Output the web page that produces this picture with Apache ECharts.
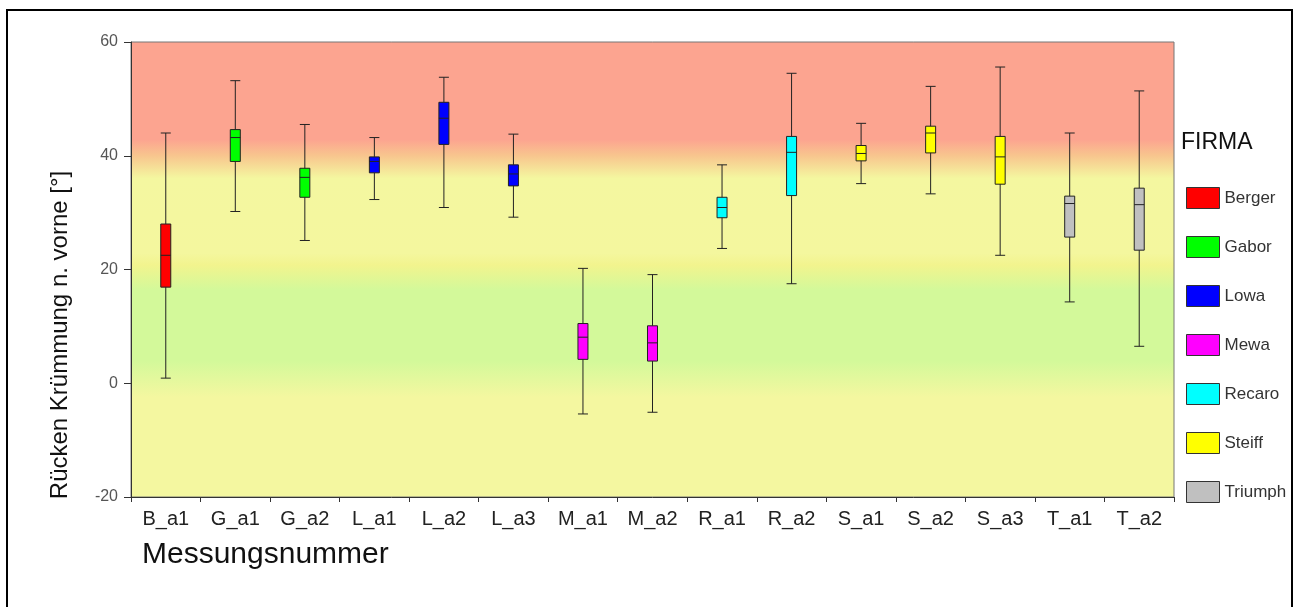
<!DOCTYPE html>
<html>
<head>
<meta charset="utf-8">
<script src="https://cdn.jsdelivr.net/npm/echarts@6/dist/echarts.min.js"></script>
<style>html,body{margin:0;padding:0;background:#fff;}#chart{width:1296px;height:607px;}</style>
</head>
<body>
<div id="chart"></div>
<script>
var categories = ['B_a1','G_a1','G_a2','L_a1','L_a2','L_a3','M_a1','M_a2','R_a1','R_a2','S_a1','S_a2','S_a3','T_a1','T_a2'];
var firmOfCategory = ['Berger','Gabor','Gabor','Lowa','Lowa','Lowa','Mewa','Mewa','Recaro','Recaro','Steiff','Steiff','Steiff','Triumph','Triumph'];
var firms = ['Berger','Gabor','Lowa','Mewa','Recaro','Steiff','Triumph'];
var firmColors = ['#ff0000','#00ff00','#0000ff','#ff00ff','#00ffff','#ffff00','#c0c0c0'];
var minVals    = [0.9, 30.2, 25.1, 32.3, 30.9, 29.2, -5.4, -5.1, 23.7, 17.5, 35.1, 33.3, 22.5, 14.3, 6.5];
var q1Vals     = [16.9, 39.0, 32.7, 37.0, 42.0, 34.7, 4.2, 3.9, 29.1, 33.0, 39.1, 40.5, 35.0, 25.7, 23.4];
var medianVals = [22.5, 43.2, 36.2, 39.0, 46.6, 36.8, 8.1, 7.1, 30.9, 40.6, 40.4, 44.0, 39.8, 31.6, 31.4];
var q3Vals     = [28.0, 44.6, 37.8, 39.8, 49.4, 38.4, 10.5, 10.1, 32.7, 43.4, 41.8, 45.2, 43.4, 32.9, 34.3];
var maxVals    = [44.0, 53.2, 45.5, 43.2, 53.8, 43.8, 20.2, 19.1, 38.4, 54.5, 45.7, 52.2, 55.6, 44.0, 51.4];
var yTicks = {min: -20, max: 60, interval: 20};

var FONT = 'Liberation Sans, Arial, sans-serif';
var boxData = categories.map(function (c, i) {
  return {
    value: [minVals[i], q1Vals[i], medianVals[i], q3Vals[i], maxVals[i]],
    itemStyle: {color: firmColors[firms.indexOf(firmOfCategory[i])]}
  };
});

var series = [{
  type: 'boxplot',
  name: 'box',
  data: boxData,
  boxWidth: [10, 10],
  itemStyle: {borderColor: '#222', borderWidth: 1},
  emphasis: {disabled: true}
}];
firms.forEach(function (f, k) {
  series.push({type: 'scatter', name: f, data: [],
    itemStyle: {color: firmColors[k], opacity: 1, borderColor: '#333', borderWidth: 1}});
});

var chart = echarts.init(document.getElementById('chart'), null, {renderer: 'canvas'});
chart.setOption({
  animation: false,
  backgroundColor: '#fff',
  textStyle: {fontFamily: FONT},
  grid: {
    left: 131, top: 42, right: 122, bottom: 110,
    show: true,
    borderColor: '#777', borderWidth: 1,
    backgroundColor: {
      type: 'linear', x: 0, y: 0, x2: 0, y2: 1,
      colorStops: [
        {offset: 0, color: '#fca490'},
        {offset: 0.215, color: '#fca490'},
        {offset: 0.25, color: '#f8c58e'},
        {offset: 0.30, color: '#f4f7a0'},
        {offset: 0.465, color: '#f4f79e'},
        {offset: 0.49, color: '#f2f48e'},
        {offset: 0.545, color: '#d3f99a'},
        {offset: 0.70, color: '#d3f99a'},
        {offset: 0.78, color: '#f4f7a0'},
        {offset: 1, color: '#f4f7a0'}
      ]
    }
  },
  title: [
    {text: 'Messungsnummer', left: 142, top: 540, padding: 0,
     textStyle: {fontFamily: FONT, fontSize: 30, fontWeight: 'normal', color: '#111'}},
    {text: 'FIRMA', left: 1181, top: 131, padding: 0,
     textStyle: {fontFamily: FONT, fontSize: 23, fontWeight: 'normal', color: '#111'}}
  ],
  legend: {
    data: firms,
    orient: 'vertical',
    left: 1186, top: 187,
    padding: 0,
    itemWidth: 33, itemHeight: 21, itemGap: 27,
    icon: 'rect',
    itemStyle: {borderColor: '#333', borderWidth: 1, opacity: 1},
    textStyle: {fontFamily: FONT, fontSize: 17, color: '#333', padding: [0, 0, 0, 0]},
    selectedMode: false
  },
  xAxis: {
    type: 'category',
    data: categories,
    axisLine: {show: true, onZero: false, lineStyle: {color: '#333', width: 1}},
    axisTick: {show: true, length: 5, lineStyle: {color: '#333'}},
    axisLabel: {fontFamily: FONT, fontSize: 20, color: '#222', margin: 12, interval: 0},
    splitLine: {show: false}
  },
  yAxis: {
    type: 'value',
    min: yTicks.min, max: yTicks.max, interval: yTicks.interval,
    axisLine: {show: true, lineStyle: {color: '#333', width: 1}},
    axisTick: {show: true, length: 7, lineStyle: {color: '#333'}},
    axisLabel: {fontFamily: FONT, fontSize: 16, color: '#555', margin: 13},
    splitLine: {show: false}
  },
  graphic: [
    {type: 'rect', silent: true, z: 100,
     shape: {x: 7, y: 10, width: 1285, height: 640},
     style: {fill: 'none', stroke: '#000', lineWidth: 2}},
    {type: 'text', silent: true, z: 100,
     x: 60, y: 335, rotation: Math.PI / 2,
     style: {text: 'Rücken Krümmung n. vorne [°]', fontFamily: FONT, fontSize: 24,
             fill: '#111', textAlign: 'center', textVerticalAlign: 'middle'}}
  ],
  series: series
});
</script>
</body>
</html>
